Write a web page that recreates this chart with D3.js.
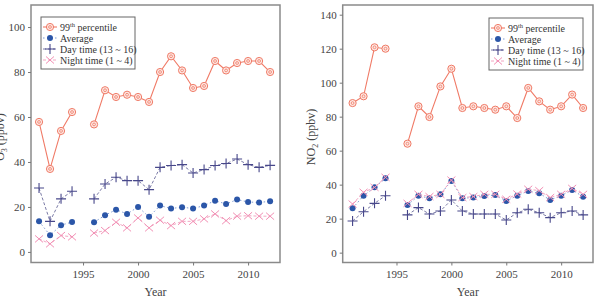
<!DOCTYPE html>
<html>
<head>
<meta charset="utf-8">
<script src="https://cdn.jsdelivr.net/npm/d3@7"></script>
<style>
  body { margin: 0; background: #fff; }
  svg, svg text { font-family: "Liberation Serif", "DejaVu Serif", serif; }
</style>
</head>
<body>
<div id="chart"></div>
<script>
// years, null marks the missing 1995
var years = [1991, 1992, 1993, 1994, 1995, 1996, 1997, 1998, 1999, 2000, 2001,
             2002, 2003, 2004, 2005, 2006, 2007, 2008, 2009, 2010, 2011, 2012];

// O3 (ppbv)
var o3P99   = [57.8, 36.9, 53.8, 62.2, null, 56.7, 71.9, 68.9, 69.9, 68.9, 66.7, 80, 87, 80.7, 72.9, 73.8, 84.9, 80.7, 84, 84.9, 84.9, 80];
var o3Avg   = [13.6, 7.4, 11.9, 13.3, null, 13.2, 16.3, 18.8, 16.9, 20, 15.6, 20.6, 19.3, 19.9, 19.3, 20.6, 22.8, 21.3, 23.3, 22.2, 22, 22.5];
var o3Day   = [28.4, 13.6, 23.6, 27, null, 23.6, 30.2, 33.2, 31.7, 31.7, 27.7, 37.6, 38.4, 38.8, 35.1, 36.6, 38.4, 39.3, 41.3, 38.8, 37.6, 38.5];
var o3Night = [5.8, 3.6, 7.3, 6.7, null, 8.4, 9.5, 13.2, 10.7, 15.1, 10.7, 14.1, 11.7, 13.6, 13.6, 14.7, 16.9, 13.9, 15.9, 16.1, 15.9, 15.9];

// NO2 (ppbv)
var no2P99   = [88, 92, 120.8, 120, null, 64.1, 86.1, 79.8, 97.8, 108.2, 85.1, 86.1, 85.1, 84.1, 86.1, 79.2, 96.9, 89, 84.1, 86.1, 93, 85.1];
var no2Avg   = [26.1, 33.5, 38.4, 43.7, null, 28, 33.5, 32, 34.3, 42.2, 32, 32.4, 33.3, 33.9, 30.4, 33.5, 36.3, 34.9, 31, 33.5, 36.9, 32.9];
var no2Day   = [18.6, 24.1, 29, 33.5, null, 22.2, 26.5, 22.7, 24.5, 31, 24.5, 22.7, 22.7, 22.7, 19.2, 23.5, 25.5, 23.5, 20.6, 23.5, 24.5, 22.2];
var no2Night = [28.6, 35.5, 38.4, 44.3, null, 29, 34.3, 33, 34.3, 42.7, 32.4, 33, 34.3, 34.3, 31.4, 34.5, 37.3, 36.5, 32.4, 34.3, 37.8, 34.3];

var xTicks = [1995, 2000, 2005, 2010];
var o3Ticks = [0, 20, 40, 60, 80, 100];
var no2Ticks = [0, 20, 40, 60, 80, 100, 120, 140];
var legendNames = ["99th percentile", "Average", "Day time (13 ~ 16)", "Night time (1 ~ 4)"];

var FONT = "'Liberation Serif', 'DejaVu Serif', serif";

var svg = d3.select("#chart").append("svg")
    .attr("width", 598)
    .attr("height", 300);

var styles = [
  {color: "#f07a66", dash: null, width: 1.1, mark: "ring"},
  {color: "#2b56a8", dash: "1.5,2.5", width: 1, lineColor: "#7f9bd3", mark: "dot"},
  {color: "#47478a", dash: "3,2", width: 1, lineColor: "#7a7aa6", mark: "plus"},
  {color: "#f28fb4", dash: "3,2", width: 1, lineColor: "#f2a6c2", mark: "cross"}
];

function drawMark(g, kind, color) {
  if (kind === "ring") {
    g.append("circle").attr("r", 3.6).attr("fill", "#fde8e3").attr("stroke", color).attr("stroke-width", 1);
    g.append("circle").attr("r", 1.4).attr("fill", "none").attr("stroke", color).attr("stroke-width", 0.8);
  } else if (kind === "dot") {
    g.append("circle").attr("r", 3).attr("fill", color);
  } else if (kind === "plus") {
    g.append("path").attr("d", "M-5,0H5M0,-5V5").attr("stroke", color).attr("stroke-width", 1.1);
  } else {
    g.append("path").attr("d", "M-4,-3.5L4,3.5M-4,3.5L4,-3.5").attr("stroke", color).attr("stroke-width", 1);
  }
}

function panel(opt) {
  var x = d3.scaleLinear().domain(opt.xDomain).range([opt.left, opt.right]);
  var y = d3.scaleLinear().domain(opt.yDomain).range([opt.bottom, opt.top]);
  var g = svg.append("g");

  // frame
  g.append("rect")
      .attr("x", opt.left).attr("y", opt.top)
      .attr("width", opt.right - opt.left).attr("height", opt.bottom - opt.top)
      .attr("fill", "none").attr("stroke", "#8a8a8a").attr("stroke-width", 1.5);

  var yAxis = g.append("g")
      .attr("transform", "translate(" + opt.left + ",0)")
      .call(d3.axisLeft(y).tickValues(opt.yTicks).tickSize(3).tickPadding(3));
  var xAxis = g.append("g")
      .attr("transform", "translate(0," + opt.bottom + ")")
      .call(d3.axisBottom(x).tickValues(xTicks).tickFormat(d3.format("d")).tickSize(3).tickPadding(5));
  [xAxis, yAxis].forEach(function(a) {
    a.attr("font-family", FONT).attr("font-size", 11);
    a.select(".domain").remove();
    a.selectAll("line").attr("stroke", "#777");
    a.selectAll("text").attr("fill", "#444");
  });

  g.append("text")
      .attr("x", (opt.left + opt.right) / 2).attr("y", 296)
      .attr("text-anchor", "middle").attr("fill", "#444")
      .attr("font-family", FONT).attr("font-size", 12).text("Year");

  var yl = g.append("text")
      .attr("transform", "translate(" + opt.yLabelX + ",137) rotate(-90)")
      .attr("text-anchor", "middle").attr("fill", "#444")
      .attr("font-family", FONT).attr("font-size", 12);
  yl.append("tspan").text(opt.species);
  yl.append("tspan").attr("dy", 3).attr("font-size", 8).text(opt.sub);
  yl.append("tspan").attr("dy", -3).text(" (ppbv)");

  opt.series.forEach(function(vals, i) {
    var s = styles[i];
    var pts = years.map(function(yr, k) { return {x: yr, v: vals[k]}; });
    var line = d3.line()
        .defined(function(d) { return d.v != null; })
        .x(function(d) { return x(d.x); })
        .y(function(d) { return y(d.v); });
    g.append("path")
        .attr("d", line(pts))
        .attr("fill", "none")
        .attr("stroke", s.lineColor || s.color)
        .attr("stroke-width", s.width)
        .attr("stroke-dasharray", s.dash);
    pts.filter(function(d) { return d.v != null; }).forEach(function(d) {
      drawMark(g.append("g").attr("transform", "translate(" + x(d.x) + "," + y(d.v) + ")"), s.mark, s.color);
    });
  });

  // legend
  var lg = g.append("g").attr("transform", "translate(" + opt.legX + "," + opt.legY + ")");
  lg.append("rect").attr("width", 94).attr("height", 52)
      .attr("fill", "#fff").attr("stroke", "#666").attr("stroke-width", 1);
  legendNames.forEach(function(name, i) {
    var s = styles[i];
    var row = lg.append("g").attr("transform", "translate(0," + (10 + i * 11) + ")");
    row.append("line").attr("x1", 2).attr("x2", 16)
        .attr("stroke", s.lineColor || s.color).attr("stroke-width", s.width)
        .attr("stroke-dasharray", s.dash);
    drawMark(row.append("g").attr("transform", "translate(9,0)"), s.mark, s.color);
    var t = row.append("text").attr("x", 19).attr("y", 3.5)
        .attr("fill", "#333").attr("font-family", FONT).attr("font-size", 10);
    if (i === 0) {
      t.append("tspan").text("99");
      t.append("tspan").attr("dy", -4).attr("font-size", 6.5).text("th");
      t.append("tspan").attr("dy", 4).text(" percentile");
    } else {
      t.text(name);
    }
  });
}

panel({
  left: 31, right: 280, top: 5, bottom: 262.5,
  xDomain: [1990.27, 2012.9], yDomain: [-4.7, 109.8],
  yTicks: o3Ticks, yLabelX: 4,
  species: "O", sub: "3",
  series: [o3P99, o3Avg, o3Day, o3Night],
  legX: 41, legY: 17
});

panel({
  left: 342.7, right: 593, top: 5, bottom: 262.5,
  xDomain: [1990.1, 2012.9], yDomain: [-5.8, 145.7],
  yTicks: no2Ticks, yLabelX: 315,
  species: "NO", sub: "2",
  series: [no2P99, no2Avg, no2Day, no2Night],
  legX: 489, legY: 18
});
</script>
</body>
</html>
